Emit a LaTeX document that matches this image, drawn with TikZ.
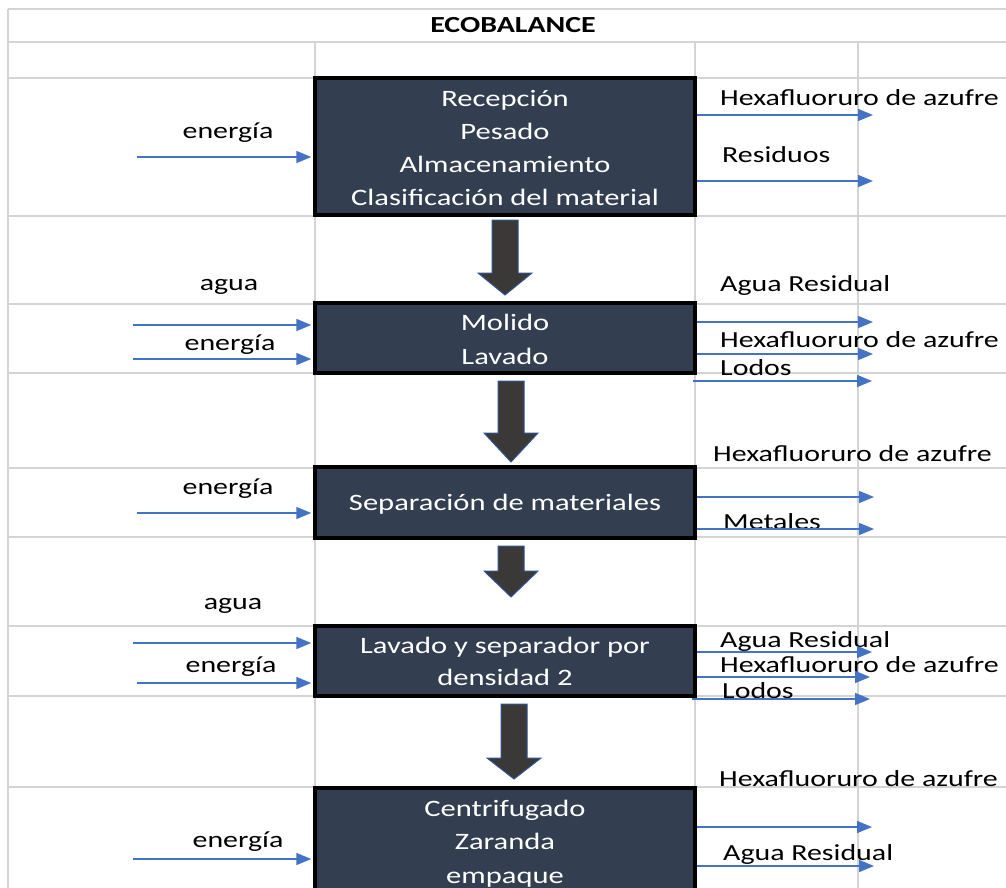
\documentclass[tikz,border=0pt]{standalone}
\usepackage{fontspec}
\setmainfont{Carlito}[FakeStretch=1.3]
\usetikzlibrary{arrows.meta}

\definecolor{gridgray}{HTML}{D4D4D4}
\definecolor{boxfill}{HTML}{333F50}
\definecolor{flowblue}{HTML}{4472C4}
\definecolor{blockfill}{HTML}{3B3838}
\definecolor{blockedge}{HTML}{2F5597}

\tikzset{
  gridline/.style={draw=gridgray, line width=1.5pt},
  procbox/.style={draw=black, line width=3.5pt, fill=boxfill, text=white,
    font=\fontsize{23.5}{33}\selectfont, align=center, inner sep=0pt,
    minimum width=380pt, text depth=0pt},
  lbl/.style={font=\fontsize{23}{28}\selectfont, inner sep=0pt, anchor=base},
  rlbl/.style={lbl, anchor=base west},
  flow/.style={draw=flowblue, line width=1.5pt, -{Triangle[length=15pt,width=12pt]}},
  blockarrow/.style={fill=blockfill, draw=blockedge, line width=1pt},
}

% thick downward arrow: centre x, top, head base, tip
\newcommand{\blockdown}[4]{%
  \draw[blockarrow] ({#1-13},#2) -- ({#1+13},#2) -- ({#1+13},#3) -- ({#1+27},#3)
    -- (#1,#4) -- ({#1-27},#3) -- ({#1-13},#3) -- cycle;}

\begin{document}
\begin{tikzpicture}[x=1pt,y=-1pt]
\useasboundingbox (0,0) rectangle (1006,888);
\clip (0,0) rectangle (1006,888);
\fill[white] (0,0) rectangle (1006,888);

% spreadsheet grid
\foreach \y in {9,42,78,216,304,373,468,537,626,696,787}
  \draw[gridline] (8,\y) -- (1006,\y);
\draw[gridline] (8,9) -- (8,888);
\foreach \x in {315,695,858}
  \draw[gridline] (\x,42) -- (\x,888);

% heading
\node[lbl, font=\bfseries\fontsize{23}{28}\selectfont] (title) at (513,33) {ECOBALANCE};

% process stages (text height fixes where the last line sits)
\node[procbox, minimum height=137pt, text height=117pt] (b1) at (505,146.5)
  {Recepción\\Pesado\\Almacenamiento\\Clasificación del material};
\node[procbox, minimum height=70pt, font=\fontsize{23.5}{34}\selectfont, text height=52pt] (b2) at (505,338)
  {Molido\\Lavado};
\node[procbox, minimum height=71pt, text height=15pt] (b3) at (505,502.5)
  {Separación de materiales};
\node[procbox, minimum height=70pt, font=\fontsize{23.5}{32}\selectfont, text height=48pt] (b4) at (505,661)
  {Lavado y separador por\\densidad 2};
\node[procbox, minimum height=112pt, font=\fontsize{23.5}{33.5}\selectfont, text height=78pt] (b5) at (505,844)
  {Centrifugado\\Zaranda\\empaque};

% flow between stages
\blockdown{505}{220}{273}{295}
\blockdown{511}{381}{433}{462}
\blockdown{511}{546}{571}{597}
\blockdown{514}{704}{758}{779}

% inputs
\node[lbl] (e1) at (228,139) {energía};
\coordinate (i1) at (137,157);
\draw[flow, shorten >=2pt] (i1) -- (i1 -| b1.west);

\node[lbl] (w2) at (229,290) {agua};
\node[lbl] (e2) at (230,350) {energía};
\coordinate (i2a) at (133,325);
\coordinate (i2b) at (133,359);
\draw[flow, shorten >=2pt] (i2a) -- (i2a -| b2.west);
\draw[flow, shorten >=2pt] (i2b) -- (i2b -| b2.west);

\node[lbl] (e3) at (228,494) {energía};
\coordinate (i3) at (137,513);
\draw[flow, shorten >=2pt] (i3) -- (i3 -| b3.west);

\node[lbl] (w4) at (233,609) {agua};
\node[lbl] (e4) at (231,672) {energía};
\coordinate (i4a) at (133,643);
\coordinate (i4b) at (137,683);
\draw[flow, shorten >=2pt] (i4a) -- (i4a -| b4.west);
\draw[flow, shorten >=2pt] (i4b) -- (i4b -| b4.west);

\node[lbl] (e5) at (238,847) {energía};
\coordinate (i5) at (133,859);
\draw[flow, shorten >=2pt] (i5) -- (i5 -| b5.west);

% outputs
\node[rlbl] (h1) at (720,106) {Hexafluoruro de azufre};
\node[rlbl] (r1) at (722,162) {Residuos};
\coordinate (o1a) at (873,115);
\coordinate (o1b) at (873,181);
\draw[flow] (o1a -| b1.east) -- (o1a);
\draw[flow] (o1b -| b1.east) -- (o1b);

\node[rlbl] (a2) at (720,291) {Agua Residual};
\node[rlbl] (h2) at (720,347) {Hexafluoruro de azufre};
\node[rlbl] (l2) at (720,375) {Lodos};
\coordinate (o2a) at (873,322);
\coordinate (o2b) at (873,354);
\coordinate (s2c) at (693,381);
\coordinate (o2c) at (872,381);
\draw[flow] (o2a -| b2.east) -- (o2a);
\draw[flow] (o2b -| b2.east) -- (o2b);
\draw[flow] (s2c) -- (o2c);

\node[rlbl] (h3) at (713,461) {Hexafluoruro de azufre};
\node[rlbl] (m3) at (723,529) {Metales};
\coordinate (o3a) at (874,497);
\coordinate (o3b) at (874,529);
\draw[flow] (o3a -| b3.east) -- (o3a);
\draw[flow] (o3b -| b3.east) -- (o3b);

\node[rlbl] (a4) at (720,647) {Agua Residual};
\node[rlbl] (h4) at (720,672) {Hexafluoruro de azufre};
\node[rlbl] (l4) at (722,698) {Lodos};
\coordinate (o4a) at (872,652);
\coordinate (o4b) at (870,677);
\coordinate (s4c) at (692,699);
\coordinate (o4c) at (870,699);
\draw[flow] (o4a -| b4.east) -- (o4a);
\draw[flow] (o4b -| b4.east) -- (o4b);
\draw[flow] (s4c) -- (o4c);

\node[rlbl] (h5) at (719,786) {Hexafluoruro de azufre};
\node[rlbl] (a5) at (723,860) {Agua Residual};
\coordinate (o5a) at (872,827);
\coordinate (o5b) at (874,866);
\draw[flow] (o5a -| b5.east) -- (o5a);
\draw[flow] (o5b -| b5.east) -- (o5b);
\end{tikzpicture}
\end{document}
